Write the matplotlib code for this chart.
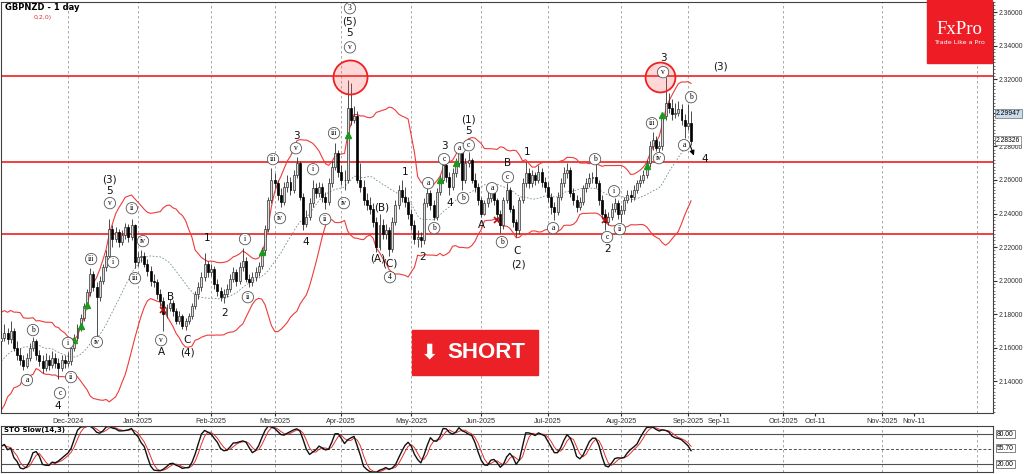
import matplotlib
matplotlib.use("Agg")
import matplotlib.pyplot as plt
from matplotlib.patches import Rectangle
import numpy as np
import pandas as pd

# daily GBPNZD bars, prices stored as pips above 2.0000
# closes of the 19 October bars before the visible window (only feed the bands)
prior_close_pips = [1300, 1250, 1400, 1350, 1500, 1450, 1300, 1500, 1600, 1550,
                    1400, 1600, 1700, 1650, 1500, 1600, 1750, 1650, 1700]
first_open = 1640
close_pips = [
    1660, 1690, 1650, 1700, 1600, 1560, 1530, 1490, 1540, 1600,
    1640, 1560, 1520, 1480, 1530, 1500, 1540, 1510, 1480, 1530,
    1510, 1520, 1600, 1660, 1720, 1780, 1850, 1930, 2040, 1960,
    1900, 2000, 2080, 2150, 2310, 2250, 2290, 2230, 2270, 2320,
    2260, 2330, 2110, 2140, 2150, 2100, 2060, 2000, 1990, 1920,
    1880, 1800, 1840, 1870, 1820, 1760, 1790, 1730, 1760, 1790,
    1850, 1920, 1960, 2020, 2100, 2050, 2070, 1980, 1940, 1900,
    1920, 1950, 2010, 2050, 2000, 2080, 2120, 2010, 1990, 2020,
    2050, 2090, 2180, 2310, 2480, 2600, 2580, 2510, 2470, 2560,
    2590, 2540, 2630, 2700, 2500, 2340, 2380, 2460, 2550, 2520,
    2560, 2500, 2470, 2580, 2680, 2760, 2650, 2600, 2600, 3030,
    2960, 2980, 2600, 2560, 2480, 2450, 2430, 2350, 2200, 2330,
    2280, 2300, 2190, 2350, 2450, 2540, 2500, 2470, 2400, 2330,
    2250, 2260, 2240, 2460, 2520, 2450, 2380, 2530, 2600, 2690,
    2620, 2560, 2640, 2700, 2760, 2600, 2700, 2720, 2600, 2560,
    2480, 2400, 2460, 2490, 2520, 2480, 2400, 2330, 2480, 2540,
    2430, 2350, 2300, 2480, 2580, 2640, 2580, 2630, 2600, 2650,
    2590, 2560, 2500, 2440, 2410, 2500, 2580, 2640, 2660, 2520,
    2480, 2440, 2470, 2550, 2580, 2610, 2620, 2580, 2480, 2400,
    2350, 2380, 2430, 2460, 2400, 2420, 2480, 2510, 2500, 2540,
    2580, 2600, 2630, 2700, 2800, 2840, 2790, 2800, 2980, 3060,
    3030, 2990, 3000, 3020, 2960, 2920, 2940, 2833]
high_pips = [
    1700, 1740, 1720, 1760, 1720, 1640, 1600, 1560, 1570, 1630,
    1665, 1650, 1590, 1560, 1570, 1560, 1580, 1570, 1540, 1560,
    1560, 1575, 1620, 1680, 1740, 1800, 1870, 1950, 2075, 2060,
    1990, 2030, 2100, 2180, 2365, 2330, 2320, 2310, 2300, 2345,
    2340, 2370, 2340, 2170, 2185, 2170, 2130, 2090, 2040, 2010,
    1950, 1900, 1860, 1890, 1885, 1840, 1820, 1800, 1780, 1810,
    1870, 1940, 1990, 2050, 2165, 2120, 2100, 2090, 2010, 1960,
    1950, 1980, 2040, 2080, 2070, 2110, 2195, 2140, 2040, 2050,
    2080, 2110, 2200, 2330, 2500, 2670, 2640, 2600, 2550, 2590,
    2630, 2620, 2660, 2736, 2710, 2520, 2420, 2490, 2600, 2580,
    2590, 2580, 2530, 2610, 2710, 2820, 2780, 2690, 2660, 3194,
    3180, 3040, 3010, 2700, 2600, 2520, 2500, 2460, 2380, 2400,
    2370, 2340, 2320, 2380, 2480, 2570, 2600, 2560, 2500, 2430,
    2360, 2300, 2290, 2490, 2557, 2540, 2480, 2550, 2630, 2710,
    2700, 2650, 2670, 2730, 2780, 2770, 2730, 2766, 2730, 2640,
    2580, 2500, 2480, 2530, 2550, 2540, 2490, 2420, 2500, 2580,
    2560, 2450, 2370, 2500, 2610, 2706, 2670, 2660, 2650, 2690,
    2670, 2620, 2590, 2520, 2470, 2530, 2610, 2680, 2700, 2680,
    2550, 2510, 2500, 2570, 2610, 2640, 2650, 2700, 2600, 2510,
    2430, 2410, 2460, 2490, 2480, 2450, 2500, 2540, 2540, 2570,
    2600, 2630, 2660, 2720, 2830, 2885, 2860, 2830, 3000, 3212,
    3120, 3080, 3060, 3070, 3050, 2990, 3050, 3010]
low_pips = [
    1610, 1640, 1620, 1630, 1580, 1530, 1500, 1470, 1480, 1520,
    1580, 1530, 1490, 1450, 1460, 1470, 1480, 1480, 1415, 1460,
    1480, 1490, 1500, 1580, 1640, 1700, 1760, 1830, 1910, 1940,
    1660, 1880, 1980, 2060, 2130, 2200, 2230, 2200, 2210, 2250,
    2230, 2240, 2075, 2090, 2110, 2080, 2030, 1970, 1960, 1890,
    1850, 1700, 1780, 1820, 1790, 1740, 1740, 1710, 1706, 1740,
    1770, 1830, 1890, 1940, 2000, 2020, 2030, 1950, 1910, 1880,
    1867, 1900, 1930, 1990, 1970, 1980, 2060, 1990, 1962, 1970,
    2000, 2030, 2070, 2160, 2290, 2460, 2550, 2480, 2438, 2450,
    2530, 2510, 2520, 2610, 2480, 2300, 2320, 2360, 2440, 2490,
    2500, 2470, 2430, 2450, 2560, 2660, 2620, 2570, 2540, 2580,
    2930, 2940, 2580, 2530, 2450, 2420, 2400, 2320, 2170, 2180,
    2250, 2250, 2150, 2170, 2330, 2430, 2470, 2440, 2370, 2300,
    2220, 2200, 2200, 2220, 2440, 2420, 2360, 2360, 2510, 2580,
    2590, 2510, 2540, 2620, 2680, 2540, 2580, 2680, 2580, 2530,
    2450, 2380, 2390, 2440, 2470, 2450, 2370, 2283, 2310, 2460,
    2410, 2320, 2260, 2280, 2460, 2560, 2550, 2560, 2570, 2580,
    2560, 2530, 2470, 2400, 2360, 2390, 2480, 2560, 2610, 2500,
    2450, 2410, 2420, 2450, 2530, 2560, 2580, 2550, 2450, 2370,
    2300, 2330, 2360, 2410, 2370, 2350, 2400, 2460, 2470, 2480,
    2520, 2560, 2580, 2610, 2680, 2780, 2770, 2765, 2780, 2960,
    3000, 2960, 2970, 2980, 2930, 2850, 2900, 2810]

# x axis = bar number (first bar 1 Nov 2024); future part counted in calendar days
date_pos = [21, 43, 66, 86, 107, 129, 151, 172, 195, 216, 226, 246, 256, 277, 287]
date_lbl = ["Dec-2024", "Jan-2025", "Feb-2025", "Mar-2025", "Apr-2025", "May-2025",
            "Jun-2025", "Jul-2025", "Aug-2025", "Sep-2025", "Sep-11", "Oct-2025",
            "Oct-11", "Nov-2025", "Nov-11"]
month_sep = [21, 43, 66, 86, 107, 129, 151, 172, 195, 216, 246, 277, 307]

levels = [2.3218, 2.2708, 2.2280]
circle_x = [109.7, 207.2]
circle_y = [2.3212, 2.3212]

# wave counts (circled and plain)
circ_x = [8.1, 10.0, 18.5, 21.0, 22.0, 28.3, 30.1, 34.2, 35.2, 41.1, 42.1, 44.6, 50.3,
          76.7, 77.6, 85.5, 87.7, 92.7, 98.1, 101.9, 104.7, 107.8, 109.7, 109.7,
          122.3, 134.3, 136.2, 139.3, 144.3, 145.3, 147.1, 154.4, 157.5, 159.4,
          173.6, 186.8, 190.6, 192.8, 194.6, 204.7, 206.9, 208.2, 214.8, 217.0]
circ_y = [2.1408, 2.1706, 2.1330, 2.1629, 2.1426, 2.2129, 2.1635, 2.2462, 2.2111, 2.2432,
          2.2015, 2.2236, 2.1646, 2.2248, 2.1902, 2.2724, 2.2373, 2.2789, 2.2664, 2.2367,
          2.2879, 2.2462, 2.3390, 2.3623, 2.2021, 2.2581, 2.2313, 2.2724, 2.2789, 2.2492,
          2.2807, 2.2551, 2.2230, 2.2617, 2.2313, 2.2724, 2.2260, 2.2533, 2.2307, 2.2938,
          2.2730, 2.3242, 2.2807, 2.3093]
circ_txt = ["a", "b", "c", "i", "ii", "iii", "iv", "v", "i", "ii", "iii", "iv", "v",
            "i", "ii", "iii", "iv", "v", "i", "ii", "iii", "iv", "v", "3",
            "4", "a", "b", "c", "a", "b", "c", "a", "b", "c",
            "a", "b", "c", "i", "ii", "iii", "iv", "v", "a", "b"]

plain_x = [17.9, 34.2, 34.2, 50.3, 53.4, 58.5, 58.5, 64.7, 70.4, 93.0, 95.9, 109.7, 109.7,
           118.5, 119.8, 122.3, 127.0, 132.4, 139.3, 141.2, 147.1, 147.1, 151.2, 159.4,
           162.3, 162.6, 165.4, 190.6, 208.2, 221.4, 226.1]
plain_y = [2.1254, 2.2533, 2.2604, 2.1575, 2.1902, 2.1646, 2.1575, 2.2254, 2.1807, 2.2861,
           2.2230, 2.3545, 2.3474, 2.2135, 2.2438, 2.2105, 2.2646, 2.2140, 2.2801, 2.2462,
           2.2890, 2.2962, 2.2331, 2.2700, 2.2176, 2.2099, 2.2765, 2.2188, 2.3325, 2.2724,
           2.3277]
plain_txt = ["4", "5", "(3)", "A", "B", "C", "(4)", "1", "2", "3", "4", "(5)", "5",
             "(A)", "(B)", "(C)", "1", "2", "3", "4", "5", "(1)", "A", "B",
             "C", "(2)", "1", "2", "3", "4", "(3)"]

up_x = [23, 25, 27, 82, 109, 138, 143, 203, 208]
up_y = [2.1646, 2.1730, 2.1855, 2.2170, 2.2867, 2.2599, 2.2700, 2.2682, 2.2986]
dn_x = [51, 156, 190]
dn_y = [2.1825, 2.2361, 2.2361]

# ---------------------------------------------------------------
close = 2 + np.array(close_pips) / 10000
high = 2 + np.array(high_pips) / 10000
low = 2 + np.array(low_pips) / 10000
open_ = np.r_[2 + first_open / 10000, close[:-1]]
idx = np.arange(len(close))
bull = close >= open_

# Bollinger(20, 2) with the October bars as warm-up
n_prior = len(prior_close_pips)
s_all = pd.Series(np.r_[2 + np.array(prior_close_pips) / 10000, close])
mid = s_all.rolling(20, min_periods=1).mean().values[n_prior:]
sd = s_all.rolling(20, min_periods=1).std(ddof=0).values[n_prior:]
upper = mid + 2 * sd
lower = mid - 2 * sd

# slow stochastic (14, 3, 3)
s = pd.Series(close)
ll = pd.Series(low).rolling(14, min_periods=1).min()
hh = pd.Series(high).rolling(14, min_periods=1).max()
k = (s - ll).rolling(3, min_periods=1).sum() / (hh - ll).rolling(3, min_periods=1).sum() * 100
d = k.rolling(3, min_periods=1).mean()

W, H = 1024, 474
fig = plt.figure(figsize=(W / 100, H / 100), dpi=100)
ax = fig.add_axes([1 / W, 1 - 413 / H, 992 / W, 411 / H])
ax2 = fig.add_axes([1 / W, 1 - 472 / H, 992 / W, 46 / H])

xmin, xmax = -0.06, 311.98
for a in (ax, ax2):
    a.set_xlim(xmin, xmax)
    for sp in a.spines.values():
        sp.set_color("#404040")
        sp.set_linewidth(0.8)
    for m in month_sep:
        a.axvline(m, color="#9a9a9a", lw=0.6, ls=(0, (3, 3)), zorder=0)

ax.set_ylim(2.1212, 2.3658)

for lv in levels:
    ax.axhline(lv, color="#f03030", lw=1.3, zorder=1)

ax.plot(idx, upper, color="#ee3b3b", lw=0.8, zorder=2)
ax.plot(idx, lower, color="#ee3b3b", lw=0.8, zorder=2)
ax.plot(idx, mid, color="#6f8f8f", lw=0.6, ls=(0, (2, 2)), zorder=2)

ax.vlines(idx, low, high, color="#303030", lw=0.6, zorder=3)
ax.bar(idx[bull], (close - open_)[bull], bottom=open_[bull], width=0.62,
       color="#dcdcdc", edgecolor="#303030", linewidth=0.5, zorder=4)
ax.bar(idx[~bull], (open_ - close)[~bull], bottom=close[~bull], width=0.62,
       color="black", edgecolor="black", linewidth=0.5, zorder=4)

ax.plot(up_x, up_y, ls="none", marker="^", ms=4, color="#1a9a1a", zorder=5)
ax.plot(dn_x, dn_y, ls="none", marker="x", ms=4, mew=1.2, color="#b01010", zorder=5)

ax.plot(circle_x[:1], circle_y[:1], ls="none", marker="o", ms=24.5,
        mfc=(1, 0.3, 0.3, 0.22), mec="#f02020", mew=1.3, zorder=6)
ax.plot(circle_x[1:], circle_y[1:], ls="none", marker="o", ms=21.5,
        mfc=(1, 0.3, 0.3, 0.22), mec="#f02020", mew=1.3, zorder=6)

for x, y, t in zip(circ_x, circ_y, circ_txt):
    ax.text(x, y, t, ha="center", va="center", fontsize=5.5, family="Liberation Serif",
            zorder=7, bbox=dict(boxstyle="circle,pad=0.22", fc="white", ec="#555555", lw=0.6))
for x, y, t in zip(plain_x, plain_y, plain_txt):
    ax.text(x, y, t, ha="center", va="center", fontsize=7.5, color="#111111", zorder=7)

ax.annotate("", xy=(218.2, 2.2730), xytext=(216.1, 2.2837),
            arrowprops=dict(arrowstyle="-|>", color="black", lw=0.8, mutation_scale=7))

# price axis on the right
ax.yaxis.tick_right()
ax.set_yticks(np.arange(2.14, 2.361, 0.02))
ax.set_yticklabels(["%.5f" % v for v in np.arange(2.14, 2.361, 0.02)],
                   family="Liberation Sans")
ax.set_yticks(np.arange(2.122, 2.366, 0.002), minor=True)
ax.tick_params(axis="y", which="major", labelsize=4.9, length=3, pad=1, colors="#303030")
ax.tick_params(axis="y", which="minor", length=1.5, color="#606060")
ax.set_xticks(date_pos)
ax.set_xticklabels(date_lbl, family="Liberation Sans")
ax.tick_params(axis="x", labelsize=5.2, length=2.5, pad=1, colors="#303030")

ax.text(1.003, 2.29947, "2.29947", transform=ax.get_yaxis_transform(), fontsize=4.9,
        family="Liberation Sans", va="center", ha="left", zorder=8,
        bbox=dict(boxstyle="square,pad=0.15", fc="#c9dcee", ec="#707070", lw=0.5))
ax.text(1.003, 2.28326, "2.28326", transform=ax.get_yaxis_transform(), fontsize=4.9,
        family="Liberation Sans", va="center", ha="left", zorder=8,
        bbox=dict(boxstyle="square,pad=0.15", fc="white", ec="#707070", lw=0.5))

# stochastic panel
ax2.set_ylim(4, 96)
ax2.set_xticks([])
ax2.set_yticks([])
ax2.axhline(80, color="#505050", lw=0.8)
ax2.axhline(20, color="#505050", lw=0.8)
ax2.axhline(50, color="#505050", lw=0.7, ls=(0, (3, 2)))
ax2.plot(idx, d, color="#e03030", lw=0.7)
ax2.plot(idx, k, color="#111111", lw=1.0)
ax2.text(0.003, 88, "STO Slow(14,3)", transform=ax2.get_yaxis_transform(), fontsize=5,
         fontweight="bold", va="center", ha="left")
for yv, txt in [(80, "80.00"), (52, "55.70"), (20, "20.00")]:
    ax2.text(1.004, yv, txt, transform=ax2.get_yaxis_transform(), fontsize=4.9,
             family="Liberation Sans", va="center", ha="left",
             bbox=dict(boxstyle="square,pad=0.12", fc="white", ec="#505050", lw=0.5))

# header, logo, short button
fig.text(5 / W, 1 - 7 / H, "GBPNZD - 1 day", fontsize=6, fontweight="bold", va="center")
fig.text(34 / W, 1 - 17 / H, "0,2,0)", fontsize=4.5, color="#e03030", va="center")

fig.add_artist(Rectangle((927 / W, 1 - 63 / H), 65 / W, 63 / H, transform=fig.transFigure,
                         color="#ee1c25", zorder=10))
fig.text(959.5 / W, 1 - 29 / H, "FxPro", fontsize=13.5, family="Liberation Serif",
         color="white", ha="center", va="center", zorder=11)
fig.text(959.5 / W, 1 - 42 / H, "Trade Like a Pro", fontsize=4.6, color="white",
         ha="center", va="center", zorder=11)

fig.add_artist(Rectangle((412 / W, 1 - 375 / H), 126 / W, 45 / H, transform=fig.transFigure,
                         color="#ec2027", zorder=10))
fig.text(430 / W, 1 - 352 / H, "\u2b07", fontsize=15, family="DejaVu Sans", color="white",
         ha="center", va="center", fontweight="bold", zorder=11)
fig.text(486 / W, 1 - 352 / H, "SHORT", fontsize=16, family="Liberation Sans",
         color="white", ha="center", va="center", fontweight="bold", zorder=11)

fig.savefig("out.png", dpi=100)
